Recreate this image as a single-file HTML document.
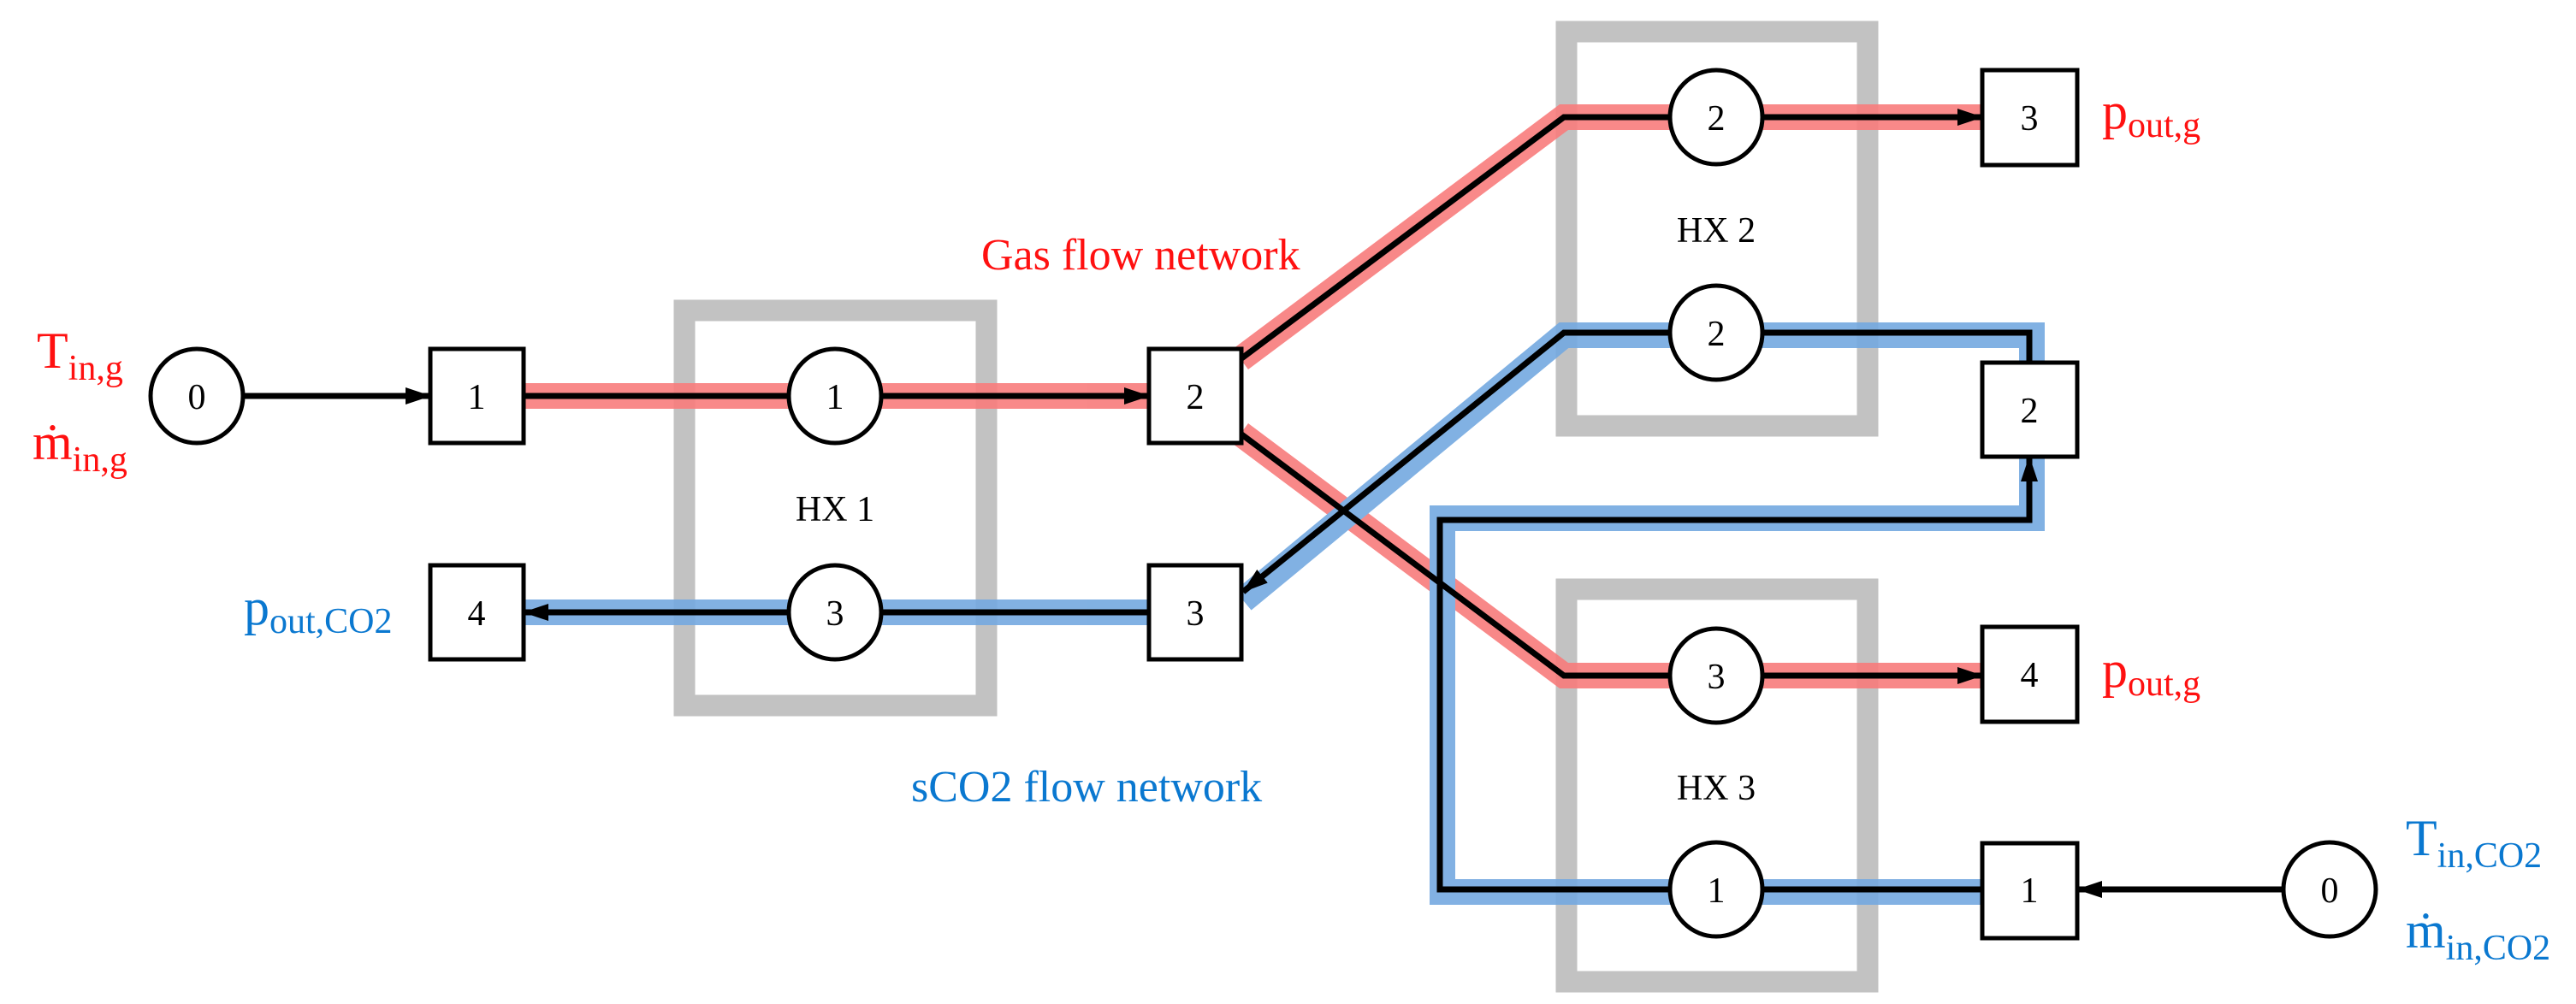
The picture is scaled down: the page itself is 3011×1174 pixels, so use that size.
<!DOCTYPE html>
<html><head><meta charset="utf-8"><style>
html,body{margin:0;padding:0;background:#fff;}
svg{display:block;}
text{font-family:"Liberation Serif",serif;}
</style></head><body>
<svg width="3011" height="1174" viewBox="0 0 3011 1174" xmlns="http://www.w3.org/2000/svg">
<defs>
<marker id="ah" markerWidth="30" markerHeight="24" refX="29" refY="12" orient="auto" markerUnits="userSpaceOnUse">
<path d="M0,2 L30,12 L0,22 z" fill="#000"/>
</marker>
</defs>
<!-- HX boxes -->
<rect x="800" y="363" width="353" height="462" fill="none" stroke="#c2c2c2" stroke-width="25"/>
<rect x="1831" y="37" width="352" height="461" fill="none" stroke="#c2c2c2" stroke-width="25"/>
<rect x="1831" y="689" width="352" height="459" fill="none" stroke="#c2c2c2" stroke-width="25"/>

<!-- halos -->
<g fill="none" stroke-width="30" stroke-linejoin="miter" opacity="0.9">
<polyline points="612,463 1343,463" stroke="#f87c7c"/>
<polyline points="1450,420 1828,137 2317,137" stroke="#f87c7c"/>
<polyline points="1450,507 1828,790 2317,790" stroke="#f87c7c"/>
<polyline points="612,716 1343,716" stroke="#74a9e0"/>
<polyline points="1453,702 1828,392 2375,392 2375,424" stroke="#74a9e0"/>
<polyline points="2317,1043 1686,1043 1686,606 2375,606 2375,534" stroke="#74a9e0"/>
</g>

<!-- black lines -->
<g fill="none" stroke="#000" stroke-width="7">
<line x1="284" y1="463" x2="503" y2="463" marker-end="url(#ah)"/>
<line x1="612" y1="463" x2="921" y2="463"/>
<line x1="1031" y1="463" x2="1343" y2="463" marker-end="url(#ah)"/>
<polyline points="1450,420 1828,137 1951,137"/>
<line x1="2061" y1="137" x2="2317" y2="137" marker-end="url(#ah)"/>
<polyline points="1450,507 1828,790 1951,790"/>
<line x1="2061" y1="790" x2="2317" y2="790" marker-end="url(#ah)"/>
<polyline points="1951,389 1828,389 1453,692" marker-end="url(#ah)"/>
<polyline points="2061,389 2372,389 2372,424"/>
<line x1="1343" y1="716" x2="1031" y2="716"/>
<line x1="921" y1="716" x2="612" y2="716" marker-end="url(#ah)"/>
<line x1="2317" y1="1040" x2="2061" y2="1040"/>
<polyline points="1951,1040 1683,1040 1683,608 2372,608 2372,534" marker-end="url(#ah)"/>
<line x1="2668" y1="1040" x2="2428" y2="1040" marker-end="url(#ah)"/>
</g>

<!-- nodes -->
<g fill="#fff" stroke="#000" stroke-width="5">
<ellipse cx="230" cy="463" rx="54" ry="55"/>
<rect x="503" y="408" width="109" height="110"/>
<ellipse cx="976" cy="463" rx="54" ry="55"/>
<rect x="1343" y="408" width="108" height="110"/>
<rect x="503" y="661" width="109" height="110"/>
<ellipse cx="976" cy="716" rx="54" ry="55"/>
<rect x="1343" y="661" width="108" height="110"/>
<ellipse cx="2006" cy="137" rx="54" ry="55"/>
<rect x="2317" y="82" width="111" height="111"/>
<ellipse cx="2006" cy="389" rx="54" ry="55"/>
<rect x="2317" y="424" width="111" height="110"/>
<ellipse cx="2006" cy="790" rx="54" ry="55"/>
<rect x="2317" y="733" width="111" height="111"/>
<ellipse cx="2006" cy="1040" rx="54" ry="55"/>
<rect x="2317" y="986" width="111" height="111"/>
<ellipse cx="2723" cy="1040" rx="54" ry="55"/>
</g>

<g font-size="42" text-anchor="middle" fill="#000">
<text x="230" y="478">0</text>
<text x="557" y="478">1</text>
<text x="976" y="478">1</text>
<text x="1397" y="478">2</text>
<text x="557" y="731">4</text>
<text x="976" y="731">3</text>
<text x="1397" y="731">3</text>
<text x="2006" y="152">2</text>
<text x="2372" y="152">3</text>
<text x="2006" y="404">2</text>
<text x="2372" y="494">2</text>
<text x="2006" y="805">3</text>
<text x="2372" y="803">4</text>
<text x="2006" y="1055">1</text>
<text x="2372" y="1055">1</text>
<text x="2723" y="1055">0</text>
<text x="976" y="609">HX 1</text>
<text x="2006" y="283">HX 2</text>
<text x="2006" y="935">HX 3</text>
</g>

<text x="1147" y="315" font-size="52" fill="#ff1010">Gas flow network</text>
<text x="1065" y="937" font-size="52" fill="#0a78d0">sCO2 flow network</text>

<g fill="#ff1010" font-size="60">
<text x="43" y="430">T<tspan font-size="42" dy="14">in,g</tspan></text>
<text x="38" y="537">ṁ<tspan font-size="42" dy="14">in,g</tspan></text>
<text x="2457" y="150">p<tspan font-size="42" dy="10">out,g</tspan></text>
<text x="2457" y="803">p<tspan font-size="42" dy="10">out,g</tspan></text>
</g>
<g fill="#0a78d0" font-size="60">
<text x="285" y="730">p<tspan font-size="42" dy="10">out,CO2</tspan></text>
<text x="2812" y="1000">T<tspan font-size="42" dy="14">in,CO2</tspan></text>
<text x="2812" y="1108">ṁ<tspan font-size="42" dy="14">in,CO2</tspan></text>
</g>
</svg>
</body></html>
